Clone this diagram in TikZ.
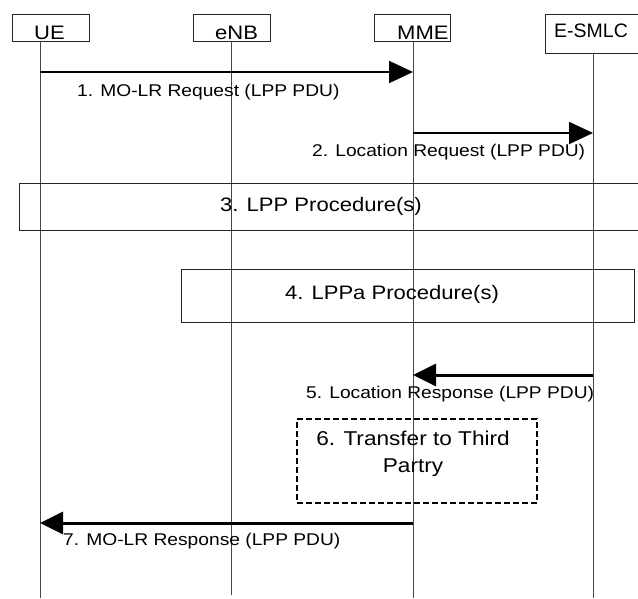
\documentclass[tikz,border=0pt]{standalone}
\usepackage{fontspec}
\setmainfont{Liberation Sans}
\newfontfamily\widefont[FakeStretch=1.13]{Liberation Sans}
\usetikzlibrary{arrows.meta}
\begin{document}
\begin{tikzpicture}[x=1pt,y=-1pt,
  hdrbox/.style={draw=black!85, line width=1pt, inner sep=0pt},
  hdrtext/.style={font=\fontsize{19.5}{23}\widefont, inner sep=0pt, anchor=base west},
  life/.style={draw=black!72, line width=1pt},
  msg/.style={line width=2pt, -{Triangle[length=24pt,width=22pt]}},
  msgthick/.style={line width=3pt, -{Triangle[length=23pt,width=22pt]}},
  lbl/.style={font=\fontsize{17}{20}\widefont, inner sep=0pt, anchor=west},
  proctext/.style={font=\fontsize{19.5}{23}\widefont, inner sep=0pt},
  procbox/.style={draw=black!85, line width=1pt, inner sep=0pt},
]
\clip (0,0) rectangle (638,598);
\fill[white] (0,0) rectangle (638,598);

% header boxes
\node[hdrbox, minimum width=77pt, minimum height=27pt] (ue) at (50.5,27.5) {};
\node[hdrbox, minimum width=77pt, minimum height=27pt] (enb) at (231.5,27.5) {};
\node[hdrbox, minimum width=76pt, minimum height=27pt] (mme) at (412,27.5) {};
\node[hdrbox, minimum width=110pt, minimum height=39pt] (esmlc) at (600,33.5) {};
\node[hdrtext] (uet) at (34,39) {UE};
\node[hdrtext] (enbt) at (215,39) {eNB};
\node[hdrtext] (mmet) at (397,39) {MME};
\node[hdrtext, font=\fontsize{19.5}{23}\selectfont] (esmlct) at (554,37) {E-SMLC};

% lifelines
\coordinate (uetop) at (40,41);
\coordinate (enbtop) at (231,41);
\coordinate (mmetop) at (413,41);
\coordinate (esmlctop) at (593,53);
\coordinate (uebot) at (40,598);
\coordinate (enbbot) at (231,595);
\coordinate (mmebot) at (413,598);
\coordinate (esmlcbot) at (593,598);
\draw[life] (uetop) -- (uebot);
\draw[life] (enbtop) -- (enbbot);
\draw[life] (mmetop) -- (mmebot);
\draw[life] (esmlctop) -- (esmlcbot);

% 1
\coordinate (ue1) at (40,72);
\coordinate (mme1) at (413,72);
\draw[msg] (ue1) -- (mme1);
\node[lbl] (l1) at (77,92.5) {1. MO-LR Request (LPP PDU)};

% 2
\coordinate (mme2) at (413,133);
\coordinate (es2) at (593,133);
\draw[msg] (mme2) -- (es2);
\node[lbl] (l2) at (312,152) {2. Location Request (LPP PDU)};

% 3
\node[procbox, minimum width=640pt, minimum height=47pt] (p3) at (339,206.5) {};
\node[proctext] (p3t) at (321,206.5) {3. LPP Procedure(s)};

% 4
\node[procbox, minimum width=453pt, minimum height=53pt] (p4) at (407.5,295.5) {};
\node[proctext] (p4t) at (392,294.5) {4. LPPa Procedure(s)};

% 5
\coordinate (es5) at (593,375);
\coordinate (mme5) at (413,375);
\draw[msgthick] (es5) -- (mme5);
\node[lbl] (l5) at (306,394) {5. Location Response (LPP PDU)};

% 6
\node[draw, line width=2pt, dash pattern=on 6pt off 3pt, minimum width=240pt, minimum height=84pt, inner sep=0pt] (p6) at (417,461) {};
\node[font=\fontsize{20}{26.5}\widefont, align=center, inner sep=0pt] (p6t) at (413,454) {6. Transfer to Third\\Partry};

% 7
\coordinate (mme7) at (413,523);
\coordinate (ue7) at (40,523);
\draw[msgthick] (mme7) -- (ue7);
\node[lbl] (l7) at (63,541) {7. MO-LR Response (LPP PDU)};
\end{tikzpicture}
\end{document}
